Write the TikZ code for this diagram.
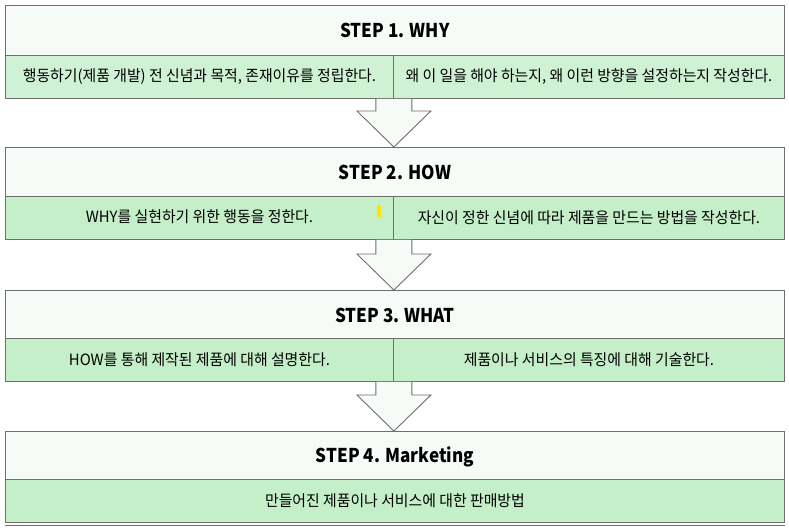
\documentclass[tikz,border=0pt]{standalone}
\usepackage{fontspec}
\setmainfont{Noto Sans CJK KR}
\usetikzlibrary{calc}
\definecolor{hdrfill}{HTML}{F7FBF7}
\definecolor{rowfill}{HTML}{C4EFC8}
\definecolor{rowfillA}{HTML}{D0F2D4}
\definecolor{edge}{HTML}{6E6E6E}
\definecolor{marky}{HTML}{FFE600}
\newcommand\hdrtext[1]{\scalebox{0.9}[1]{#1}}
\newcommand\celltext[1]{\scalebox{0.96}[1]{#1}}
\newcommand\blockarrow[2]{%
  \path[fill=hdrfill] let \p1=(#1.south east), \p2=(#2.north) in
    (\x1-18pt,\y1) -- (\x1-18pt,\y2+36pt) -- (\x1-37pt,\y2+36pt) -- (\x1,\y2)
    -- (\x1+37pt,\y2+36pt) -- (\x1+18pt,\y2+36pt) -- (\x1+18pt,\y1) -- cycle;
  \draw[draw=edge, line width=0.9pt, line join=miter] let \p1=(#1.south east), \p2=(#2.north) in
    (\x1-18pt,\y1) -- (\x1-18pt,\y2+36pt) -- (\x1-37pt,\y2+36pt) -- (\x1,\y2)
    -- (\x1+37pt,\y2+36pt) -- (\x1+18pt,\y2+36pt) -- (\x1+18pt,\y1);
}
\begin{document}
\begin{tikzpicture}[x=1pt,y=-1pt,
  hdr/.style={draw=edge, fill=hdrfill, line width=0.9pt, minimum width=779pt,
    minimum height=50pt, inner sep=0pt, anchor=north west,
    font=\bfseries\fontsize{19}{21}\selectfont},
  cellL/.style={draw=edge, fill=rowfill, line width=0.9pt, minimum width=388pt,
    minimum height=43pt, inner sep=0pt, anchor=north west,
    font=\fontsize{15.5}{18}\selectfont},
  cellR/.style={cellL, minimum width=391pt},
  cellW/.style={cellL, minimum width=779pt}
]
\useasboundingbox (0,0) rectangle (789,531);
\fill[white] (0,0) rectangle (789,531);

% STEP 1
\node[hdr] (h1) at (5,5) {\hdrtext{STEP 1. WHY}};
\node[cellL, fill=rowfillA] (l1) at (5,55) {\celltext{행동하기(제품 개발) 전 신념과 목적, 존재이유를 정립한다.}};
\node[cellR, fill=rowfillA] (r1) at (393,55) {\celltext{왜 이 일을 해야 하는지, 왜 이런 방향을 설정하는지 작성한다.}};

% STEP 2
\node[hdr] (h2) at (5,147) {\hdrtext{STEP 2. HOW}};
\node[cellL] (l2) at (5,196) {\raisebox{3pt}{\celltext{WHY를 실현하기 위한 행동을 정한다.}}};
\node[cellR] (r2) at (393,196) {\celltext{자신이 정한 신념에 따라 제품을 만드는 방법을 작성한다.}};
\fill[marky] (377,205) rectangle (381,217);

% STEP 3
\node[hdr] (h3) at (5,290) {\hdrtext{STEP 3. WHAT}};
\node[cellL] (l3) at (5,338) {\celltext{HOW를 통해 제작된 제품에 대해 설명한다.}};
\node[cellR] (r3) at (393,338) {\celltext{제품이나 서비스의 특징에 대해 기술한다.}};

% STEP 4
\node[hdr] (h4) at (5,431) {\hdrtext{STEP 4. Marketing}};
\node[cellW] (w4) at (5,479) {\celltext{만들어진 제품이나 서비스에 대한 판매방법}};
\draw[edge, line width=0.9pt] (w4.south west) ++(0,3) -- ($(w4.south east)+(0,3)$);

% arrows
\blockarrow{l1}{h2}
\blockarrow{l2}{h3}
\blockarrow{l3}{h4}
\end{tikzpicture}
\end{document}
